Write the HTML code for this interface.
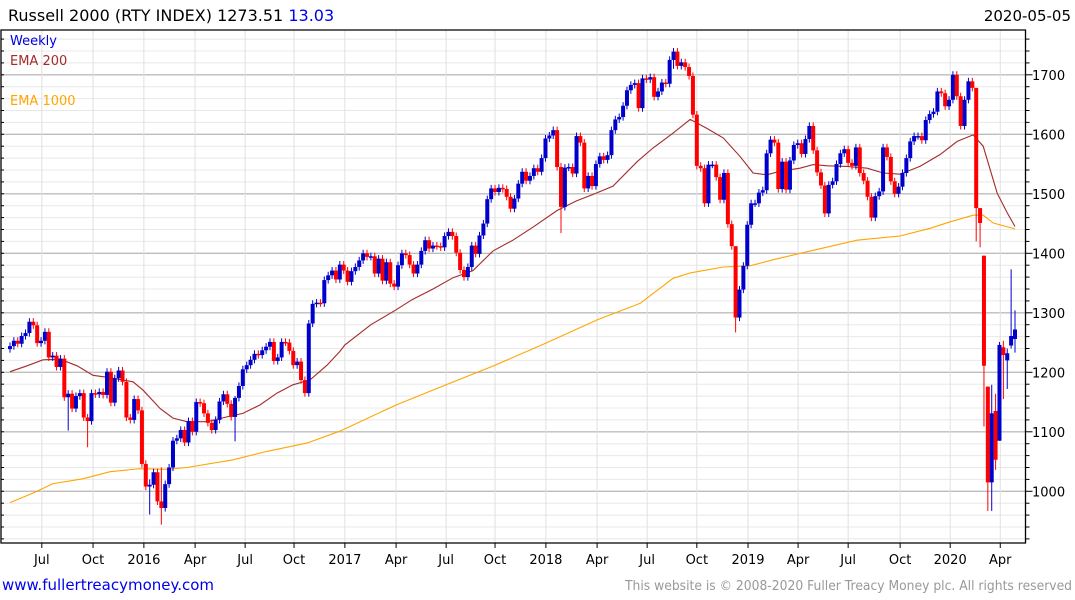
<!DOCTYPE html>
<html><head><meta charset="utf-8"><style>
html,body{margin:0;padding:0;background:#fff;}
svg{display:block;font-family:"DejaVu Sans","Liberation Sans",sans-serif;}
</style></head><body>
<svg id="chart" width="1075" height="600" viewBox="0 0 1075 600" xmlns="http://www.w3.org/2000/svg">
<text x="8" y="21" font-size="16" fill="#000">Russell 2000 (RTY INDEX) 1273.51 <tspan fill="#0000ee">13.03</tspan></text>
<text x="1071" y="21" font-size="15" fill="#000" text-anchor="end">2020-05-05</text>
<g id="grid"></g>
<g id="ema"></g>
<g id="candles"></g>
<g id="axes"></g>
<text x="10" y="45" font-size="13" fill="#0000dd">Weekly</text>
<text x="10" y="65" font-size="13" fill="#a52a2a">EMA 200</text>
<text x="10" y="105" font-size="13" fill="#ffa500">EMA 1000</text>
<a><text x="2" y="590" font-size="15" fill="#0000ee">www.fullertreacymoney.com</text></a>
<text x="1072" y="590" font-size="13" fill="#999" text-anchor="end" textLength="447" lengthAdjust="spacingAndGlyphs">This website is © 2008-2020 Fuller Treacy Money plc. All rights reserved</text>
</svg>
<script>
const closes = [
1244,1253,1248,1261,1266,1285,1279,1249,1253,1268,1225,1228,1209,1223,1158,1164,1139,1160,1165,1124,
1118,1165,1163,1167,1162,1201,1149,1190,1203,1184,1124,1120,1155,1136,1046,1008,1011,1032,983,972,
1012,1040,1085,1089,1103,1082,1118,1100,1150,1148,1131,1115,1103,1120,1151,1163,1147,1125,1157,1177,
1205,1212,1221,1231,1229,1237,1243,1251,1219,1225,1251,1250,1236,1212,1218,1187,1165,1282,1315,1317,
1316,1355,
1363,1371,1356,1381,1371,1352,1370,1377,1388,1400,1394,1395,1366,1391,1354,1385,1349,1344,1380,1400,
1397,1381,1366,1381,1404,1422,1408,1413,1412,1410,1429,1436,1429,1401,1372,1360,1377,1413,1399,1430,
1450,1491,1509,1503,1510,1508,1495,1475,1492,1517,1537,1522,1530,1543,1537,1560,1593,1598,1607,1545,
1478,1544,1545,1534,1597,1586,1509,1530,1513,1550,1563,1557,1565,1607,1625,1629,1648,1674,1683,1686,
1644,1694,1692,1696,1663,
1672,1687,1685,1725,1739,1715,1721,1713,1698,1633,1547,1543,1484,1549,1549,1528,1490,1535,1449,1412,
1292,1339,1379,1448,1484,1484,1502,1506,1568,1591,1586,1508,1554,1507,1556,1582,1585,1567,1592,1614,
1573,1536,1514,1467,1515,1521,1550,1568,1575,1552,1547,1578,1535,1522,1495,1460,1496,1504,1578,1562,
1521,1500,1512,1535,1560,1588,1597,1597,1590,1624,1634,1638,1672,1669,1647,1658,1700,1664,1614,1658,
1689,1678,1476,1451,
1211,1015,1131,1053,1246,1229,1232,1261,1272
];
const openIdx = [251,252,253,254,255,256,257,258,259];
const openVal = [1396,1176,1015,1135,1085,1242,1220,1245,1256];
const wickIdx = [15,20,36,39,58,142,171,187,249,250,251,252,253,254,255,256,257,258,259];
const wickHigh = [1170,1130,1020,1040,1160,1552,1745,1300,1500,1475,1396,1176,1179,1164,1251,1253,1240,1373,1304];
const wickLow = [1102,1074,961,944,1084,1434,1710,1267,1420,1410,1109,967,967,1036,1085,1155,1172,1240,1233];
const emaIdx200 = [0,4.4,8.5,12.9,17.3,21.4,25.8,31.7,34.3,38.7,42,45.6,50.8,55.9,60,64.4,68.8,72.9,77.3,81.7,85,86.3,93,99.5,103.6,109,114.2,119.3,124.5,129.6,134.8,141,146,150.3,155.4,161.6,165.7,170.9,175.3,179.6,183.8,188.1,191.5,195.1,198.5,203.6,207,210.6,215.7,220.9,225,229.4,234.5,239.7,244.1,248.2,250.8,254.4,257,259];
const emaVal200 = [1201,1211,1221,1222,1211,1195,1191,1184,1170,1139,1123,1117,1117,1125,1131,1145,1165,1179,1187,1212,1235,1246,1280,1305,1322,1340,1359,1371,1404,1422,1444,1472,1488,1499,1513,1554,1577,1602,1625,1610,1594,1563,1535,1532,1538,1543,1549,1547,1546,1543,1535,1533,1546,1566,1588,1599,1580,1501,1468,1445];
const emaIdx1000 = [0,5.9,11.1,18.8,25.8,33.5,40.5,45.6,57.5,66.2,76.5,85,99.5,112.4,125,138.1,151.3,162.4,170.9,175.3,183.8,190.7,196.6,207,218.3,229.4,237.1,242.3,248.2,250.8,253.4,259];
const emaVal1000 = [981,997,1013,1021,1033,1038,1037,1040,1053,1067,1081,1101,1145,1179,1212,1249,1288,1316,1358,1367,1377,1379,1389,1405,1422,1429,1442,1453,1464,1464,1451,1441];
const xLabels = ["Jul","Oct","2016","Apr","Jul","Oct","2017","Apr","Jul","Oct","2018","Apr","Jul","Oct","2019","Apr","Jul","Oct","2020","Apr"];
const xLabelIdx = [8.2,21.4,34.5,47.7,60.6,73.2,86.3,99.5,112.4,125,138.1,151.3,164.2,177,190.2,203.1,216,229.4,242.3,255.2];
const yTicks = [1000,1100,1200,1300,1400,1500,1600,1700];

const NS="http://www.w3.org/2000/svg";
const L=1, R=1025.5, T=30, B=543;
const N=closes.length;
function xs(i){return 10+i*(1005/259);}
function ys(v){return 491.3-(v-1000)*0.595;}
function mk(tag,attrs,parent){const e=document.createElementNS(NS,tag);for(const k in attrs)e.setAttribute(k,attrs[k]);parent.appendChild(e);return e;}
const grid=document.getElementById('grid'),axes=document.getElementById('axes'),cg=document.getElementById('candles'),eg=document.getElementById('ema');

for(let v=920;v<=1780;v+=20){const y=ys(v);if(y<T||y>B)continue;const major=v%100===0;
 const ln=mk('line',{x1:L,x2:R,y1:y,y2:y,stroke:major?'#bdbdbd':'#e8e8e8','stroke-width':major?1.3:1},grid);
 
 
 const tk=mk('line',{x1:R,x2:R+(major?7:4),y1:y,y2:y,stroke:'#000'},axes);
 
 
 const lt=mk('line',{x1:L,x2:L+3,y1:y,y2:y,stroke:'#000'},axes);
 
 
}
yTicks.forEach(v=>{const t=mk('text',{x:1032,y:ys(v)+5,'font-size':13,fill:'#000'},axes);t.textContent=v;
 
 });
xLabels.forEach((s,k)=>{const x=xs(xLabelIdx[k]);
 const g=mk('line',{x1:x,x2:x,y1:T,y2:B,stroke:'#e0e0e0'},grid);
 
 
 const tk=mk('line',{x1:x,x2:x,y1:B,y2:B+5,stroke:'#000'},axes);
 
 
 const t=mk('text',{x:x,y:564,'font-size':13,fill:'#000','text-anchor':'middle'},axes);t.textContent=s;
 
 });
const fr=mk('path',{d:`M${L} ${T} H${R} V${B} H${L} Z`,fill:'none',stroke:'#000','stroke-width':1.3},axes);



function line(idx,val,color,name){let d='';idx.forEach((i,k)=>{d+=(k?'L':'M')+xs(i).toFixed(1)+' '+ys(val[k]).toFixed(1);});
 const p=mk('path',{d:d,fill:'none',stroke:color,'stroke-width':1.1},eg);
 
 }
line(emaIdx1000,emaVal1000,'#ffa500','ema-1000-line');
line(emaIdx200,emaVal200,'#a52a2a','ema-200-line');

for(let i=0;i<N;i++){
 const c=closes[i];let o=i>0?closes[i-1]:c-5;const oi=openIdx.indexOf(i);if(oi>=0)o=openVal[oi];
 let hi=Math.max(o,c)+6,lo=Math.min(o,c)-6;const wi=wickIdx.indexOf(i);if(wi>=0){hi=wickHigh[wi];lo=wickLow[wi];}
 const col=c>=o?'#0000cc':'#ff0000';const x=xs(i);
 const w=mk('line',{x1:x,x2:x,y1:ys(hi),y2:ys(lo),stroke:col,'stroke-width':1},cg);
 
 
 const top=ys(Math.max(o,c)),h=Math.max(1.5,ys(Math.min(o,c))-top);
 const r=mk('rect',{x:x-2,y:top,width:4,height:h,fill:col},cg);
 
 
}
</script>
</body></html>
